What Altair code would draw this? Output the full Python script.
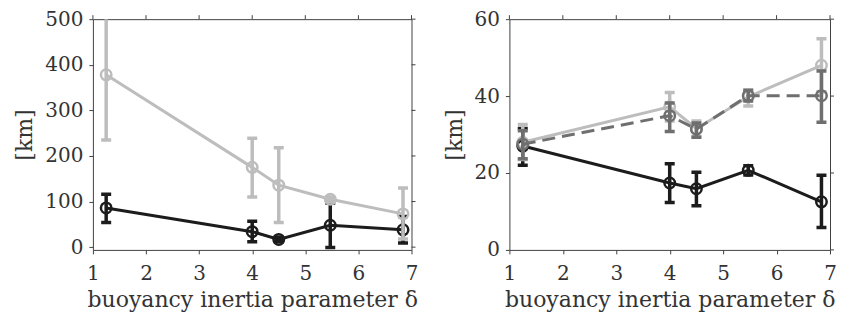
import altair as alt
import pandas as pd

# ---------------- data ----------------
x_vals = [1.25, 4.0, 4.5, 5.47, 6.84]

# left panel
left_black_y = [86, 34, 17, 48, 38]
left_black_lo = [54, 12, 12, -1, 9]
left_black_hi = [116, 57, 22, 97, 67]
left_gray_y = [378, 175, 136, 105, 73]
left_gray_lo = [235, 110, 54, 100, 18]
left_gray_hi = [525, 239, 218, 110, 130]

# right panel
right_black_y = [27.0, 17.4, 15.9, 20.7, 12.5]
right_black_lo = [22.0, 12.3, 11.5, 19.5, 5.8]
right_black_hi = [31.6, 22.4, 20.2, 21.9, 19.4]
right_light_y = [28.0, 37.2, 31.5, 39.8, 48.0]
right_light_lo = [23.5, 33.5, 29.5, 37.4, 41.1]
right_light_hi = [32.6, 40.9, 33.5, 41.5, 54.9]
right_dark_y = [27.5, 34.9, 31.4, 40.1, 40.1]
right_dark_lo = [23.7, 30.8, 29.3, 38.7, 33.2]
right_dark_hi = [31.0, 38.2, 33.0, 41.5, 46.5]

x_ticks = [1, 2, 3, 4, 5, 6, 7]
left_y_ticks = [0, 100, 200, 300, 400, 500]
right_y_ticks = [0, 20, 40, 60]

x_title = "buoyancy inertia parameter δ"
y_title = "[km]"

BLACK = "#1c1c1c"
LIGHT = "#bdbdbd"
DARK = "#6f6f6f"
AXC = "#404040"
FONT = "DejaVu Serif"

H = 231


def panel(series, y_domain, y_ticks, width):
    xs = alt.Scale(domain=[1, 7], nice=False, zero=False)
    ys = alt.Scale(domain=y_domain, nice=False, zero=False)
    xaxis = alt.Axis(values=x_ticks, title=x_title, format="d", labelFlush=False)
    yaxis = alt.Axis(values=y_ticks, title=y_title, format="d", labelFlush=False)

    def X(f):
        return alt.X(f, scale=xs, axis=xaxis)

    def Y(f):
        return alt.Y(f, scale=ys, axis=yaxis)

    layers = []
    for yv, lo, hi, color, dash in series:
        df = pd.DataFrame({"x": x_vals, "y": yv, "lo": lo, "hi": hi})
        base = alt.Chart(df)
        layers.append(base.mark_rule(color=color, strokeWidth=3.5, clip=True)
                      .encode(x=X("x:Q"), y=Y("lo:Q"), y2="hi:Q"))
        for f in ["lo", "hi"]:
            layers.append(base.mark_tick(color=color, orient="horizontal", size=10,
                                         thickness=3.5, clip=True, opacity=1)
                          .encode(x=X("x:Q"), y=Y(f + ":Q")))
        line_kw = dict(color=color, strokeWidth=3)
        if dash:
            line_kw["strokeDash"] = dash
        layers.append(base.mark_line(**line_kw).encode(x=X("x:Q"), y=Y("y:Q")))
        layers.append(base.mark_point(shape="circle", filled=False, color=color,
                                      strokeWidth=2.5, size=110, opacity=1)
                      .encode(x=X("x:Q"), y=Y("y:Q")))

    top_ticks = (alt.Chart(pd.DataFrame({"t": x_ticks}))
                 .mark_rule(color=AXC, strokeWidth=1)
                 .encode(x=X("t:Q"), y=alt.value(0), y2=alt.value(-4)))
    right_ticks = (alt.Chart(pd.DataFrame({"t": y_ticks}))
                   .mark_rule(color=AXC, strokeWidth=1)
                   .encode(y=Y("t:Q"), x=alt.value(width), x2=alt.value(width + 4)))
    layers += [top_ticks, right_ticks]
    return alt.layer(*layers).properties(width=width, height=H)


left = panel(
    [
        (left_black_y, left_black_lo, left_black_hi, BLACK, None),
        (left_gray_y, left_gray_lo, left_gray_hi, LIGHT, None),
    ],
    [-6, 500], left_y_ticks, 319,
)
right = panel(
    [
        (right_black_y, right_black_lo, right_black_hi, BLACK, None),
        (right_light_y, right_light_lo, right_light_hi, LIGHT, None),
        (right_dark_y, right_dark_lo, right_dark_hi, DARK, [13, 7]),
    ],
    [0, 60], right_y_ticks, 321,
)

chart = (
    alt.hconcat(left, right, spacing=24)
    .properties(padding={"left": 5, "top": 0, "right": 0, "bottom": 0})
    .configure_view(stroke=AXC, strokeWidth=1)
    .configure_axis(
        domain=False, grid=False, tickColor=AXC, tickSize=4, tickWidth=1,
        labelFont=FONT, labelFontSize=20, labelColor="#333333", labelPadding=6,
        titleFont=FONT, titleFontSize=22, titleFontWeight="normal", titleColor="#333333",
    )
    .configure_axisX(labelPadding=10, titlePadding=6)
    .configure_axisY(titlePadding=8)
)

chart.save("out.html", embed_options={"renderer": "svg", "actions": False})
